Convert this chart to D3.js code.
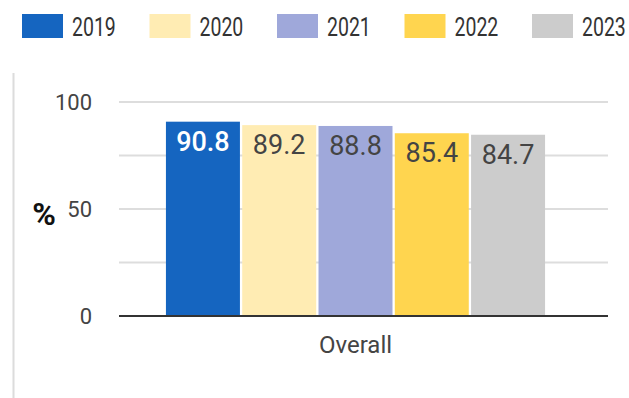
<!DOCTYPE html>
<html>
<head>
<meta charset="utf-8">
<script src="https://cdn.jsdelivr.net/npm/d3@7"></script>
<style>
  html, body { margin: 0; padding: 0; background: #fff; }
  svg { display: block; font-family: Roboto, "Noto Sans", sans-serif; }
</style>
</head>
<body>
<svg id="chart" width="629" height="398"></svg>
<script>
// Data
const categories = ["Overall"];
const years = ["2019", "2020", "2021", "2022", "2023"];
const values = [90.8, 89.2, 88.8, 85.4, 84.7];
const colors = ["#1565c0", "#ffecb3", "#9fa8da", "#ffd54f", "#cccccc"];
const yTicks = [0, 25, 50, 75, 100];
const yTickLabels = ["0", "", "50", "", "100"];

const svg = d3.select("#chart");

// Layout
const plotLeft = 119, plotRight = 608, plotTop = 102, plotBottom = 316;

const y = d3.scaleLinear().domain([0, 100]).range([plotBottom, plotTop]);
const x0 = d3.scaleBand().domain(categories).range([103, plotRight]).paddingInner(0).paddingOuter(0.166);
const x1 = d3.scaleBand().domain(years).range([0, x0.bandwidth()]).paddingInner(0.03).paddingOuter(0);

// Left frame line
svg.append("line")
  .attr("x1", 13.5).attr("x2", 13.5).attr("y1", 73).attr("y2", 398)
  .attr("stroke", "#dcdcdc").attr("stroke-width", 2);

// Gridlines
svg.append("g").selectAll("line")
  .data(yTicks.filter(d => d !== 0))
  .join("line")
  .attr("x1", plotLeft).attr("x2", plotRight)
  .attr("y1", d => y(d)).attr("y2", d => y(d))
  .attr("stroke", "#dddddd").attr("stroke-width", 2);

// Y axis labels
const yAxis = d3.axisLeft(y).tickValues(yTicks)
  .tickFormat((d, i) => yTickLabels[i]).tickSize(0).tickPadding(0);
const yg = svg.append("g").attr("transform", "translate(92,0)").call(yAxis);
yg.select(".domain").remove();
yg.selectAll("text")
  .attr("fill", "#444").attr("font-size", 22)
  .style("font-family", "Roboto, sans-serif")
  .attr("dy", "0.36em");

// Axis title
svg.append("text")
  .attr("x", 44).attr("y", 225)
  .attr("text-anchor", "middle")
  .attr("font-size", 32).attr("font-weight", 700).attr("fill", "#111")
  .text("%");

// Bars
const group = svg.append("g").selectAll("g")
  .data(categories)
  .join("g")
  .attr("transform", d => `translate(${x0(d)},0)`);

const barData = years.map((yr, i) => ({ year: yr, value: values[i], color: colors[i] }));

group.selectAll("rect")
  .data(barData)
  .join("rect")
  .attr("x", d => x1(d.year))
  .attr("y", d => y(d.value))
  .attr("width", x1.bandwidth())
  .attr("height", d => y(0) - y(d.value))
  .attr("fill", d => d.color);

// Value labels
group.selectAll("text.val")
  .data(barData)
  .join("text")
  .attr("class", "val")
  .attr("x", d => x1(d.year) + x1.bandwidth() / 2)
  .attr("y", d => y(d.value) + 29)
  .attr("text-anchor", "middle")
  .attr("font-size", 27)
  .attr("font-weight", (d, i) => i === 0 ? 500 : 400)
  .attr("fill", (d, i) => i === 0 ? "#ffffff" : "#444444")
  .text(d => d.value.toFixed(1));

// Baseline
svg.append("line")
  .attr("x1", plotLeft).attr("x2", plotRight)
  .attr("y1", y(0)).attr("y2", y(0))
  .attr("stroke", "#333").attr("stroke-width", 2);

// X axis label
const xAxis = d3.axisBottom(x0).tickSize(0).tickPadding(0);
const xg = svg.append("g").attr("transform", `translate(0,${y(0)})`).call(xAxis);
xg.select(".domain").remove();
xg.selectAll("text")
  .attr("fill", "#444").attr("font-size", 24)
  .style("font-family", "Roboto, sans-serif")
  .attr("dy", "0").attr("y", 37);

// Legend
const legend = svg.append("g").selectAll("g")
  .data(years)
  .join("g")
  .attr("transform", (d, i) => `translate(${22 + i * 127.5},0)`);

legend.append("rect")
  .attr("x", 0).attr("y", 14).attr("width", 41).attr("height", 24)
  .attr("fill", (d, i) => colors[i]);

legend.append("text")
  .attr("transform", "translate(50,35.5) scale(0.78,1)")
  .attr("font-size", 25)
  .attr("fill", "#333")
  .text(d => d);
</script>
</body>
</html>
